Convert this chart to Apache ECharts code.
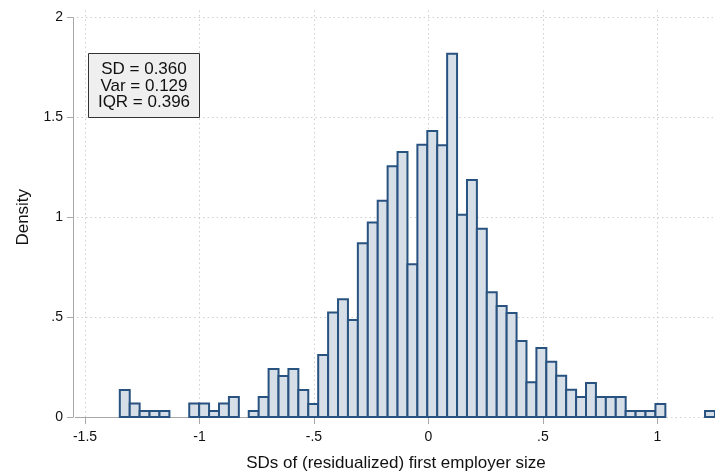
<!DOCTYPE html>
<html>
<head>
<meta charset="utf-8">
<script src="https://cdn.jsdelivr.net/npm/echarts@6/dist/echarts.min.js"></script>
<style>
html,body{margin:0;padding:0;background:#fff;}
#chart{width:715px;height:471px;}
</style>
</head>
<body>
<div id="chart"></div>
<script>
// Histogram bins (lower edge of first bin and bin width, in SD units)
const binStart = -1.348;
const binWidth = 0.04333;
// Density of each bin
const densities = [
  0.135, 0.067, 0.03, 0.03, 0.03, 0, 0, 0.067, 0.067, 0.03,
  0.067, 0.10, 0, 0.03, 0.10, 0.24, 0.205, 0.24, 0.135, 0.065,
  0.31, 0.523, 0.59, 0.485, 0.87, 0.974, 1.083, 1.255, 1.327, 0.765,
  1.363, 1.432, 1.36, 1.818, 1.013, 1.186, 0.942, 0.625, 0.556, 0.521,
  0.381, 0.174, 0.346, 0.276, 0.206, 0.137, 0.10, 0.17, 0.10, 0.10,
  0.10, 0.03, 0.03, 0.03, 0.065, 0, 0, 0, 0, 0.03
];
const xTicks = [-1.5, -1, -0.5, 0, 0.5, 1];
const yTicks = [0, 0.5, 1, 1.5, 2];
const statLines = ['SD = 0.360', 'Var = 0.129', 'IQR = 0.396'];
const xTitle = 'SDs of (residualized) first employer size';
const yTitle = 'Density';
// Extent of the drawn x-axis line and top of the vertical gridlines
const xAxisLineRange = [-1.545, 1.035];
const gridTop = 2.047;

const FONT = "'Liberation Sans', Arial, Helvetica, sans-serif";
const fmt = v => {
  if (v === 0) return '0';
  let s = String(v);
  s = s.replace(/^0\./, '.').replace(/^-0\./, '-.');
  return s;
};

const binData = [];
densities.forEach((d, i) => {
  if (d > 0) binData.push([binStart + i * binWidth, binStart + (i + 1) * binWidth, d]);
});

const chart = echarts.init(document.getElementById('chart'), null, {renderer: 'canvas'});

const gridStyle = {color: '#cfcfcf', width: 1, type: [1.5, 3]};
const axisColor = '#a8a8a8';

const option = {
  backgroundColor: '#ffffff',
  animation: false,
  grid: {left: 77, right: 0, top: 17.5, bottom: 54, outerBoundsMode: 'none', containLabel: false},
  xAxis: {
    type: 'value',
    min: -1.535,
    max: 1.252,
    axisLine: {show: false},
    axisTick: {show: true, customValues: xTicks, length: 7, lineStyle: {color: axisColor, width: 1}},
    axisLabel: {customValues: xTicks, formatter: fmt, color: '#111', fontSize: 14, fontFamily: FONT, margin: 13},
    splitLine: {show: false},
    name: xTitle,
    nameLocation: 'middle',
    nameGap: 38,
    nameTextStyle: {color: '#111', fontSize: 17, fontFamily: FONT}
  },
  yAxis: {
    type: 'value',
    min: 0,
    max: 2,
    interval: 0.5,
    offset: 4,
    axisLine: {show: true, onZero: false, lineStyle: {color: axisColor, width: 1}},
    axisTick: {show: true, length: 6, lineStyle: {color: axisColor, width: 1}},
    axisLabel: {formatter: fmt, color: '#111', fontSize: 14, fontFamily: FONT, margin: 10},
    splitLine: {show: true, lineStyle: gridStyle},
    name: yTitle,
    nameLocation: 'middle',
    nameGap: 41,
    nameTextStyle: {color: '#111', fontSize: 17, fontFamily: FONT}
  },
  series: [
    {
      // vertical dotted gridlines at the x ticks
      type: 'custom',
      clip: false,
      silent: true,
      data: xTicks.map(t => [t]),
      encode: {x: 0},
      renderItem: function (params, api) {
        const t = api.value(0);
        const p0 = api.coord([t, 0]);
        const p1 = api.coord([t, gridTop]);
        return {
          type: 'line',
          shape: {x1: Math.round(p0[0]) + 0.5, y1: p0[1], x2: Math.round(p0[0]) + 0.5, y2: p1[1]},
          style: {stroke: '#cfcfcf', lineWidth: 1, lineDash: [1.5, 3]}
        };
      },
      z: 1
    },
    {
      // solid x-axis line
      type: 'custom',
      clip: false,
      silent: true,
      data: [xAxisLineRange],
      encode: {x: [0, 1]},
      renderItem: function (params, api) {
        const p0 = api.coord([api.value(0), 0]);
        const p1 = api.coord([api.value(1), 0]);
        return {
          type: 'line',
          shape: {x1: p0[0], y1: Math.round(p0[1]) + 0.5, x2: p1[0], y2: Math.round(p0[1]) + 0.5},
          style: {stroke: axisColor, lineWidth: 1}
        };
      },
      z: 2
    },
    {
      type: 'custom',
      clip: false,
      data: binData,
      encode: {x: [0, 1], y: 2},
      renderItem: function (params, api) {
        const x0 = api.value(0), x1 = api.value(1), y = api.value(2);
        const pTop = api.coord([x0, y]);
        const pBot = api.coord([x1, 0]);
        return {
          type: 'rect',
          shape: {x: pTop[0], y: pTop[1], width: pBot[0] - pTop[0], height: pBot[1] - pTop[1]},
          style: {fill: '#d6dee8', stroke: '#28527f', lineWidth: 2}
        };
      },
      z: 3
    }
  ]
};

chart.setOption(option);

// Statistics box: its lower-right corner sits on (-1, 1.5)
const corner = chart.convertToPixel({xAxisIndex: 0, yAxisIndex: 0}, [-1, 1.5]);
const boxW = 111, boxH = 64;
chart.setOption({
  graphic: [
    {
      type: 'rect',
      z: 10,
      shape: {x: Math.round(corner[0] - boxW) + 0.5, y: Math.round(corner[1] - boxH) + 0.5, width: boxW, height: boxH},
      style: {fill: '#efefef', stroke: '#333333', lineWidth: 1}
    },
    {
      type: 'text',
      z: 11,
      x: corner[0] - boxW / 2,
      y: corner[1] - boxH / 2 + 0.5,
      style: {
        text: statLines.join('\n'),
        fill: '#111',
        font: '17px ' + FONT,
        lineHeight: 16.5,
        align: 'center',
        verticalAlign: 'middle'
      }
    }
  ]
});
</script>
</body>
</html>
